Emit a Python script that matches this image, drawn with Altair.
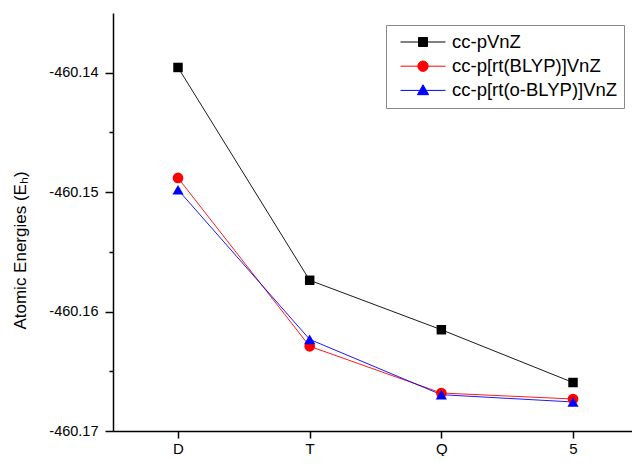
import json
import altair as alt
import pandas as pd

# ---- data ----
basis = ["D", "T", "Q", "5"]
xpos = [1, 2, 3, 4]
series = ["cc-pVnZ", "cc-p[rt(BLYP)]VnZ", "cc-p[rt(o-BLYP)]VnZ"]
e_pvnz = [-460.13956, -460.15738, -460.16152, -460.16594]
e_blyp = [-460.14881, -460.16291, -460.16682, -460.16732]
e_oblyp = [-460.14980, -460.16233, -460.16696, -460.16757]
y_ticks = [-460.17, -460.165, -460.16, -460.155, -460.15, -460.145, -460.14]

colors = ["#000000", "#ff0000", "#0000ff"]
shapes = ["square", "circle", "triangle-up"]
sizes = [90, 115, 125]
legend_paths = [
    "M-1,0H1M-0.2,-0.2H0.2V0.2H-0.2Z",
    "M-1,0H1M-0.23,0A0.23,0.23 0 1,0 0.23,0A0.23,0.23 0 1,0 -0.23,0Z",
    "M-1,0H1M0,-0.25L0.25,0.19L-0.25,0.19Z",
]

rows = []
for s, vals in zip(series, [e_pvnz, e_blyp, e_oblyp]):
    for x, b, v in zip(xpos, basis, vals):
        rows.append({"series": s, "x": x, "basis": b, "energy": v})
df = pd.DataFrame(rows)

FONT = "Liberation Sans"
xdom = [0.5063, 4.448]
ydom = [-460.17, -460.135]

x_label_expr = json.dumps(basis) + "[datum.value - 1]"
color_scale = alt.Scale(domain=series, range=colors)
yscale = alt.Scale(domain=ydom, nice=False, zero=False)
is_major = "abs(datum.value * 100 - round(datum.value * 100)) < 0.01"

xenc = alt.X(
    "x:Q",
    scale=alt.Scale(domain=xdom, nice=False, zero=False),
    axis=alt.Axis(
        values=xpos, labelExpr=x_label_expr, title=None, grid=False,
        tickSize=7, labelPadding=3, labelFontSize=15, labelFont=FONT,
        labelColor="black", domainColor="black", domainWidth=1.5,
        tickColor="black", tickWidth=1.5, labelFlush=False,
    ),
)

lines = alt.Chart(df).mark_line(strokeWidth=0.9).encode(
    x=xenc,
    y=alt.Y(
        "energy:Q", scale=yscale,
        axis=alt.Axis(
            values=y_ticks,
            labelExpr=is_major + " ? '-' + format(abs(datum.value), '.2f') : ''",
            title="Atomic Energies (Eₕ)", titleFont=FONT, titleFontSize=17,
            titleFontWeight="normal", titleColor="black", titleAngle=270,
            titleX=-93, titleY=237, titleAlign="center", titleBaseline="middle",
            grid=False,
            tickSize={"condition": {"test": is_major, "value": 8}, "value": 4},
            labelPadding=7, labelFontSize=14.5,
            labelFont=FONT, labelColor="black", domainColor="black",
            domainWidth=1.5, tickColor="black", tickWidth=1.5,
        ),
    ),
    color=alt.Color("series:N", scale=color_scale, title=None),
    order="x:Q",
)

point_layers = []
for s, shp, sz in zip(series, shapes, sizes):
    point_layers.append(
        alt.Chart(df)
        .transform_filter(alt.datum.series == s)
        .mark_point(filled=True, opacity=1, shape=shp, size=sz)
        .encode(
            x="x:Q",
            y=alt.Y("energy:Q", scale=yscale),
            color=alt.Color("series:N", scale=color_scale, title=None),
        )
    )

legend_layer = alt.Chart(df).transform_filter("datum.energy > 0").mark_point(
    filled=True, strokeWidth=1
).encode(
    x="x:Q",
    y=alt.Y("energy:Q", scale=yscale),
    shape=alt.Shape("series:N", scale=alt.Scale(domain=series, range=legend_paths), title=None),
    color=alt.Color("series:N", scale=color_scale, title=None),
    stroke=alt.Stroke("series:N", scale=alt.Scale(domain=series, range=colors), title=None),
)

chart = (
    alt.layer(lines, *point_layers, legend_layer)
    .properties(
        width=519, height=418,
        autosize=alt.AutoSizeParams(type="none"),
        padding={"left": 105, "top": 5, "right": 0, "bottom": 25},
    )
    .configure_view(stroke=None)
    .configure_legend(
        orient="none", legendX=273, legendY=12,
        strokeColor="#888888", fillColor="white", padding=6,
        symbolSize=2025, symbolStrokeWidth=1, symbolOffset=8,
        clipHeight=22, rowPadding=2.2,
        labelFont=FONT, labelFontSize=18.5, labelColor="black",
        labelLimit=400, labelOffset=6,
    )
)

chart.save("out.html", embed_options={"renderer": "svg", "actions": False})
